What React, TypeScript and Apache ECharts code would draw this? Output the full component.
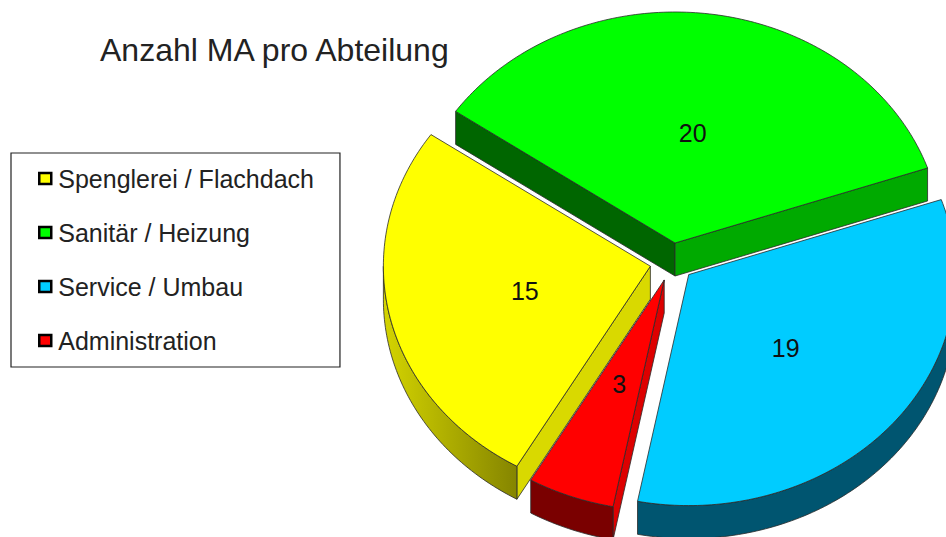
import React, { useEffect, useRef } from "react";
import * as echarts from "echarts";

const titleText = "Anzahl MA pro Abteilung";
const categories = ["Spenglerei / Flachdach", "Sanitär / Heizung", "Service / Umbau", "Administration"];
const values = [15, 20, 19, 3];
const topColors = ["#FFFF00", "#00FF00", "#00CCFF", "#FF0000"];
const startWallColors = ["#D9D900", "#006600", "#0099BF", "#DD0000"];
const endWallColors = ["#D9D900", "#00AA00", "#0099BF", "#DD0000"];
const outerWallLeft = ["#D4D400", "#009900", "#005570", "#7A0000"];
const outerWallRight = ["#858500", "#009900", "#005570", "#7A0000"];

const FONT = '"Liberation Sans", Arial, sans-serif';
const CX = 672;
const CY = 262;
const RX = 267;
const RY = 231;
const DEPTH = 33;
const EXPLODE = 0.083;
const START_DEG = 240;
const LABEL_R = 0.482;
const EDGE = "#2a2a2a";

const total = values.reduce((a, b) => a + b, 0);
const rad = (d: number) => (d * Math.PI) / 180;

function renderSlice(i: number) {
  return (_params: any, api: any) => {
    const span = (api.value(0) / total) * 360;
    const before = values.slice(0, i).reduce((a, b) => a + b, 0);
    const s = START_DEG - (before / total) * 360;
    const e = s - span;
    const mid = (s + e) / 2;
    const ox = CX + EXPLODE * RX * Math.cos(rad(mid));
    const oy = CY - EXPLODE * RY * Math.sin(rad(mid));
    const pt = (deg: number, r = 1, dz = 0) => [
      ox + r * RX * Math.cos(rad(deg)),
      oy - r * RY * Math.sin(rad(deg)) + dz,
    ];
    const arc = (from: number, to: number, dz = 0) => {
      const n = Math.max(2, Math.ceil(Math.abs(from - to)));
      const out: number[][] = [];
      for (let k = 0; k <= n; k++) out.push(pt(from + ((to - from) * k) / n, 1, dz));
      return out;
    };
    const stroke = { stroke: EDGE, lineWidth: 0.8, lineJoin: "round" };
    const children: any[] = [];
    const wall = (points: number[][], fill: any) =>
      children.push({ type: "polygon", shape: { points }, style: { fill, ...stroke } });

    if (Math.cos(rad(s)) < 0) {
      wall([pt(s, 0), pt(s), pt(s, 1, DEPTH), pt(s, 0, DEPTH)], startWallColors[i]);
    }
    if (Math.cos(rad(e)) > 0) {
      wall([pt(e, 0), pt(e), pt(e, 1, DEPTH), pt(e, 0, DEPTH)], endWallColors[i]);
    }
    // outer wall: the part of the arc whose sine is negative (front of the ellipse)
    const from = Math.min(s, s > 180 ? s : 0);
    const to = Math.max(e, s > 180 ? 180 : -180);
    if (from > to) {
      wall([...arc(from, to), ...arc(to, from, DEPTH)], {
        type: "linear",
        x: 0,
        y: 0,
        x2: 1,
        y2: 0,
        colorStops: [
          { offset: 0, color: outerWallLeft[i] },
          { offset: 1, color: outerWallRight[i] },
        ],
      });
    }

    children.push({
      type: "polygon",
      shape: { points: [pt(s, 0), ...arc(s, e)] },
      style: { fill: topColors[i], ...stroke },
    });
    const lp = pt(mid, LABEL_R);
    children.push({
      type: "text",
      style: {
        text: String(api.value(0)),
        x: lp[0],
        y: lp[1],
        align: "center",
        verticalAlign: "middle",
        fontSize: 25,
        fontFamily: FONT,
        fill: "#111",
      },
    });
    return { type: "group", children };
  };
}

export default function App() {
  const ref = useRef<HTMLDivElement>(null);
  useEffect(() => {
    document.body.style.margin = "0";
    const chart = echarts.init(ref.current!, null, { renderer: "svg" });
    chart.setOption({
      animation: false,
      backgroundColor: "#fff",
      title: {
        text: titleText,
        left: 100,
        top: 34,
        padding: 0,
        textStyle: { fontFamily: FONT, fontSize: 32, fontWeight: "normal", color: "#222" },
      },
      legend: {
        orient: "vertical",
        left: 11,
        top: 153,
        padding: [13, 26, 14, 27],
        backgroundColor: "#fff",
        borderColor: "#222",
        borderWidth: 1.2,
        itemGap: 29,
        itemWidth: 12,
        itemHeight: 11,
        icon: "rect",
        data: categories,
        selectedMode: false,
        itemStyle: { borderColor: "#000", borderWidth: 2.5 },
        textStyle: { fontFamily: FONT, fontSize: 25, color: "#222", padding: [0, 0, 0, 2] },
      },
      series: categories.map((name, i) => ({
        type: "custom",
        name,
        coordinateSystem: "none",
        renderItem: renderSlice(i),
        itemStyle: { color: topColors[i] },
        silent: true,
        data: [[values[i]]],
      })),
    });
    return () => chart.dispose();
  }, []);
  return <div ref={ref} style={{ width: 946, height: 537, overflow: "hidden" }} />;
}
